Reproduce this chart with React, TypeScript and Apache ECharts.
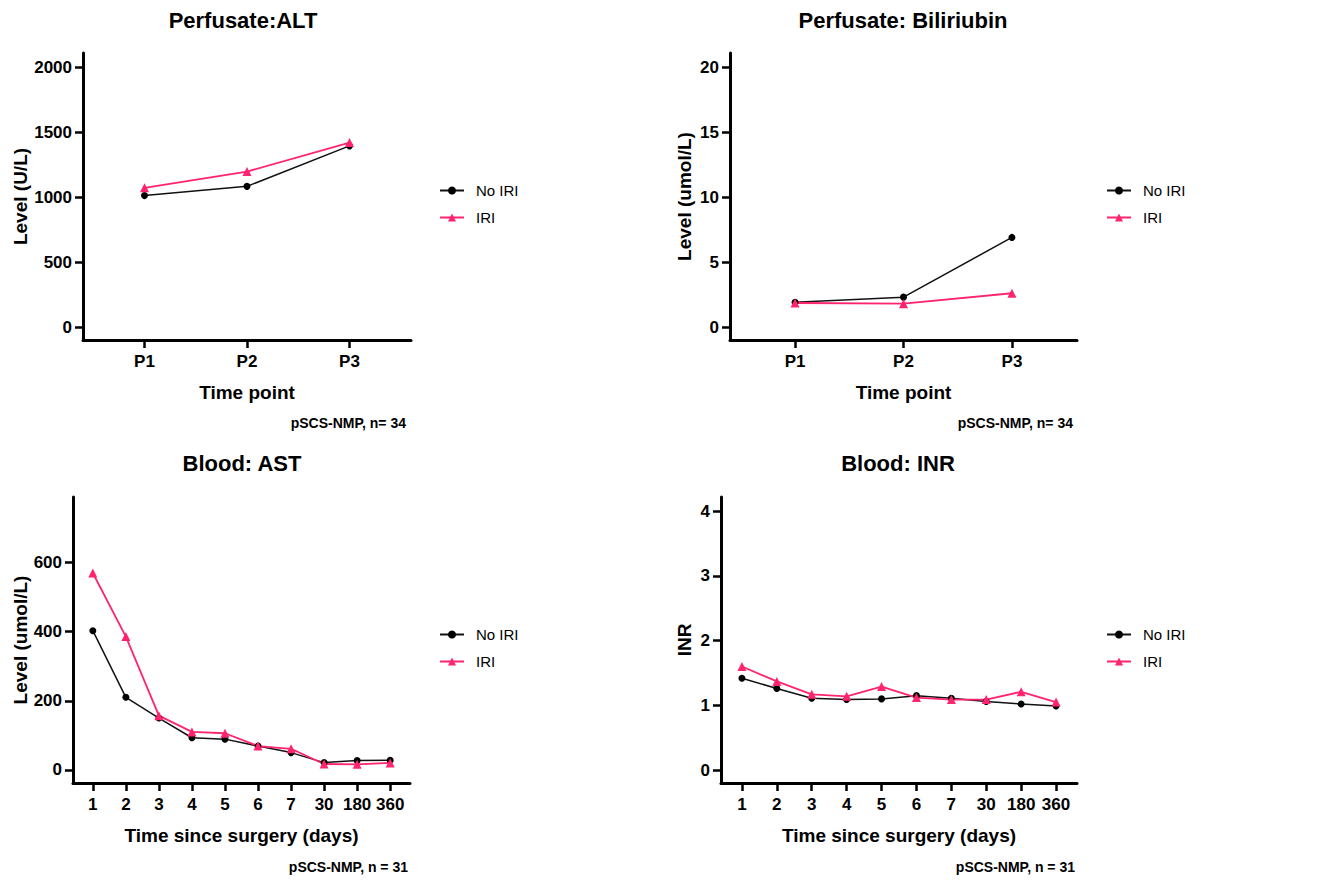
import React, { useEffect, useRef } from "react";
import * as echarts from "echarts";

const perfCats = ["P1", "P2", "P3"];
const altNoIri = [1012, 1083, 1395];
const altIri = [1072, 1197, 1420];
const biliNoIri = [1.9, 2.3, 6.9];
const biliIri = [1.85, 1.8, 2.6];
const daysCats = ["1", "2", "3", "4", "5", "6", "7", "30", "180", "360"];
const astNoIri = [403, 210, 150, 93, 89, 69, 50, 21, 27, 28];
const astIri = [570, 386, 157, 110, 106, 69, 61, 17, 16, 20];
const inrNoIri = [1.42, 1.26, 1.11, 1.09, 1.1, 1.15, 1.11, 1.06, 1.02, 0.99];
const inrIri = [1.6, 1.37, 1.17, 1.14, 1.29, 1.12, 1.09, 1.09, 1.21, 1.05];

const altTicks = [0, 500, 1000, 1500, 2000];
const biliTicks = [0, 5, 10, 15, 20];
const astTicks = [0, 200, 400, 600];
const inrTicks = [0, 1, 2, 3, 4];

const FONT = '"Liberation Sans", Arial, sans-serif';
const PINK = "#ff2370";

function xAxis(gridIndex: number, cats: string[], name: string) {
  const vals = cats.map((_, i) => i + 1);
  return {
    type: "value",
    gridIndex,
    min: 0.4,
    max: cats.length + 0.6,
    name,
    nameLocation: "middle",
    nameGap: 43,
    nameTextStyle: { fontFamily: FONT, fontWeight: "bold", fontSize: 19, color: "#000" },
    axisLine: { onZero: false, lineStyle: { color: "#000", width: 3 } },
    axisTick: { customValues: vals, length: 8, lineStyle: { color: "#000", width: 2.5 } },
    axisLabel: {
      customValues: vals,
      margin: 13,
      formatter: (v: number) => cats[Math.round(v) - 1] ?? "",
      fontFamily: FONT,
      fontWeight: "bold",
      fontSize: 17,
      color: "#000",
    },
    splitLine: { show: false },
  };
}

function yAxis(gridIndex: number, min: number, max: number, ticks: number[], name: string, nameGap: number) {
  return {
    type: "value",
    gridIndex,
    min,
    max,
    name,
    nameLocation: "middle",
    nameGap,
    nameTextStyle: { fontFamily: FONT, fontWeight: "bold", fontSize: 19, color: "#000" },
    axisLine: { show: true, onZero: false, lineStyle: { color: "#000", width: 3 } },
    axisTick: { show: true, customValues: ticks, length: 8, lineStyle: { color: "#000", width: 2.5 } },
    axisLabel: {
      customValues: ticks,
      margin: 11,
      formatter: (v: number) => String(v),
      fontFamily: FONT,
      fontWeight: "bold",
      fontSize: 17,
      color: "#000",
    },
    splitLine: { show: false },
  };
}

function seriesPair(idx: number, noIri: number[], iri: number[]) {
  return [
    {
      type: "line",
      name: "No IRI",
      xAxisIndex: idx,
      yAxisIndex: idx,
      data: noIri.map((v, i) => [i + 1, v]),
      symbol: "circle",
      symbolSize: 7,
      itemStyle: { color: "#000" },
      lineStyle: { color: "#111", width: 1.5 },
    },
    {
      type: "line",
      name: "IRI",
      xAxisIndex: idx,
      yAxisIndex: idx,
      data: iri.map((v, i) => [i + 1, v]),
      symbol: "triangle",
      symbolSize: 9,
      itemStyle: { color: PINK },
      lineStyle: { color: PINK, width: 1.8 },
    },
  ];
}

function legend(left: number, top: number) {
  return {
    left,
    top,
    padding: 0,
    orient: "vertical",
    selectedMode: false,
    itemWidth: 24,
    itemHeight: 10,
    itemGap: 12,
    data: ["No IRI", "IRI"],
    textStyle: { fontFamily: FONT, fontSize: 15, color: "#000", padding: [0, 0, 0, 7] },
  };
}

function txt(x: number, y: number, text: string, size: number, align: string) {
  return {
    type: "text",
    x,
    y,
    style: {
      text,
      textAlign: align,
      textVerticalAlign: "middle",
      fontFamily: FONT,
      fontWeight: "bold",
      fontSize: size,
      fill: "#000",
    },
  };
}

export default function App() {
  const ref = useRef<HTMLDivElement>(null);
  useEffect(() => {
    document.body.style.margin = "0";
    const chart = echarts.init(ref.current!, null, { renderer: "svg" });
    chart.setOption({
      animation: false,
      backgroundColor: "#fff",
      grid: [
        { left: 83, top: 53, width: 328, height: 287 },
        { left: 730, top: 53, width: 347, height: 287 },
        { left: 73, top: 497, width: 337, height: 286 },
        { left: 721, top: 497, width: 356, height: 286 },
      ],
      xAxis: [
        xAxis(0, perfCats, "Time point"),
        xAxis(1, perfCats, "Time point"),
        xAxis(2, daysCats, "Time since surgery (days)"),
        xAxis(3, daysCats, "Time since surgery (days)"),
      ],
      yAxis: [
        yAxis(0, -100, 2110, altTicks, "Level (U/L)", 53),
        yAxis(1, -1, 21.1, biliTicks, "Level (umol/L)", 36),
        yAxis(2, -38, 790, astTicks, "Level (umol/L)", 43),
        yAxis(3, -0.2, 4.22, inrTicks, "INR", 27),
      ],
      legend: [legend(439, 183), legend(1106, 183), legend(439, 627), legend(1106, 627)],
      series: [
        ...seriesPair(0, altNoIri, altIri),
        ...seriesPair(1, biliNoIri, biliIri),
        ...seriesPair(2, astNoIri, astIri),
        ...seriesPair(3, inrNoIri, inrIri),
      ],
      graphic: [
        txt(243, 20, "Perfusate:ALT", 22, "center"),
        txt(903, 20, "Perfusate: Biliriubin", 22, "center"),
        txt(242, 463, "Blood: AST", 22, "center"),
        txt(898, 463, "Blood: INR", 22, "center"),
        txt(406, 423, "pSCS-NMP, n= 34", 14, "right"),
        txt(1073, 423, "pSCS-NMP, n= 34", 14, "right"),
        txt(408, 867, "pSCS-NMP, n = 31", 14, "right"),
        txt(1075, 867, "pSCS-NMP, n = 31", 14, "right"),
      ],
    });
    return () => chart.dispose();
  }, []);
  return (
    <div
      ref={ref}
      style={{ position: "absolute", left: 0, top: 0, width: 1317, height: 880, background: "#fff" }}
    />
  );
}
